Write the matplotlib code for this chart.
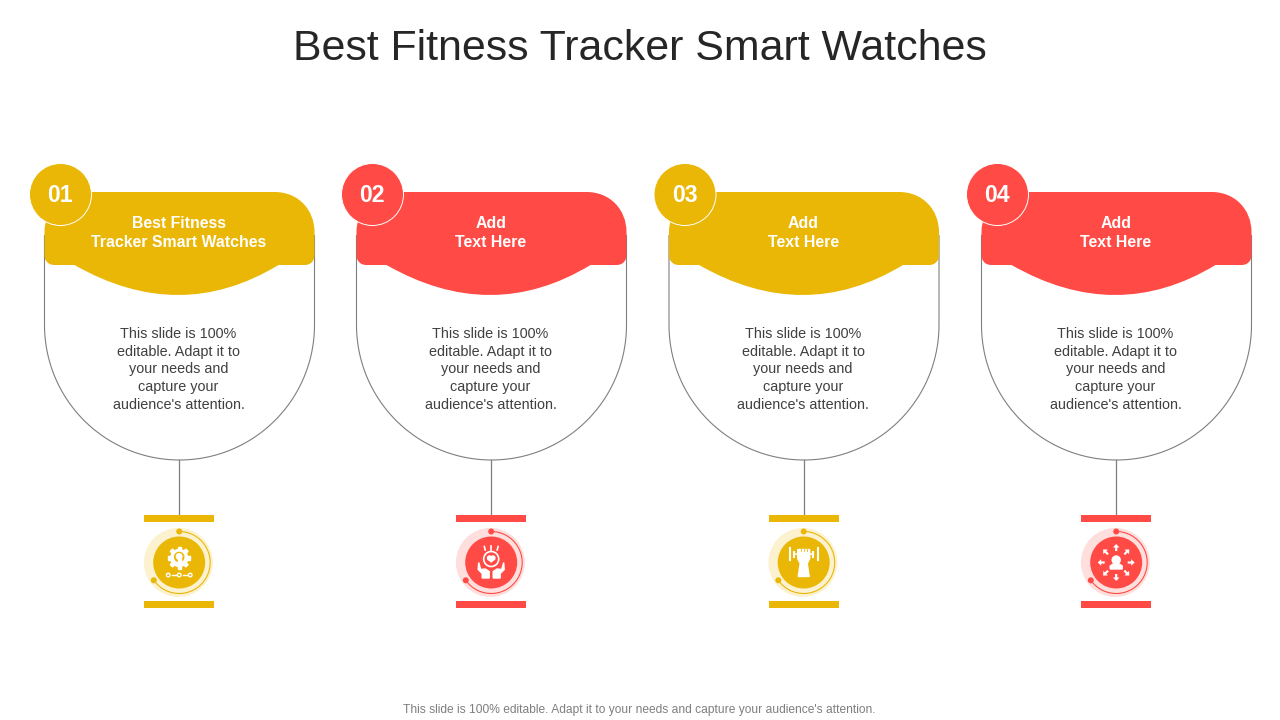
#!/usr/bin/env python3
import numpy as np
import matplotlib
matplotlib.use('Agg')
import matplotlib.pyplot as plt
from matplotlib.patches import Circle, Rectangle, PathPatch, Arc, Polygon, FancyArrow
from matplotlib.path import Path
from matplotlib.transforms import Affine2D

plt.rcParams['font.family'] = ['Liberation Sans', 'DejaVu Sans']

title = 'Best Fitness Tracker Smart Watches'
footer = "This slide is 100% editable. Adapt it to your needs and capture your audience's attention."
numbers = ['01', '02', '03', '04']
headings = [['Best Fitness', 'Tracker Smart Watches'], ['Add', 'Text Here'], ['Add', 'Text Here'], ['Add', 'Text Here']]
body_lines = ['This slide is 100%', 'editable. Adapt it to', 'your needs and', 'capture your', "audience's attention."]
card_left = [44.5, 356.5, 669, 981.5]

YELLOW = '#EAB706'
RED = '#FF4A45'
card_colors = [YELLOW, RED, YELLOW, RED]
pale_colors = ['#FDF2CF', '#FFDFDD', '#FDF2CF', '#FFDFDD']
LINE = '#7F7F7F'
TEXT = '#404040'

fig = plt.figure(figsize=(12.8, 7.2), dpi=100)
ax = fig.add_axes([0, 0, 1, 1])
ax.set_xlim(0, 1280)
ax.set_ylim(720, 0)
ax.axis('off')


def header_path(x):
    r = x + 270
    c = x + 135
    M, L, C3, C4, Z = Path.MOVETO, Path.LINETO, Path.CURVE3, Path.CURVE4, Path.CLOSEPOLY
    verts = [(x + 40, 192), (r - 40, 192),
             (r - 16, 192), (r, 210), (r, 232),
             (r, 255), (r, 261), (r - 4, 265), (r - 10, 265),
             (r - 36, 265),
             (c, 325), (x + 30, 265),
             (x + 10, 265), (x + 4, 265), (x, 261), (x, 255),
             (x, 232), (x, 210), (x + 16, 192), (x + 40, 192), (x + 40, 192)]
    codes = [M, L, C4, C4, C4, L, C4, C4, C4, L, C3, C3, L, C4, C4, C4, L, C4, C4, C4, Z]
    return Path(verts, codes)


def outline_path(x):
    t = np.linspace(np.pi, 0, 80)
    xs = x + 135 + 135 * np.cos(t)
    ys = 325 + 135 * np.sin(t)
    verts = [(x, 235)] + list(zip(xs, ys)) + [(x + 270, 235)]
    return Path(verts)


def icon_gear(cx, cy, col):
    gy = cy - 4.5
    for a in np.arange(0, 360, 45):
        rot = Affine2D().rotate_deg_around(cx, gy, a) + ax.transData
        ax.add_patch(Rectangle((cx - 1.6, gy - 11), 3.2, 4, color='white', zorder=6, transform=rot))
    ax.add_patch(Circle((cx, gy), 8.5, color='white', zorder=6))
    ax.add_patch(Circle((cx, gy - 1), 4.6, color=col, zorder=7))
    ax.add_patch(Circle((cx, gy - 1.5), 2.8, color='white', zorder=8))
    ax.add_patch(Rectangle((cx - 1.5, gy + 1), 3, 3.5, color='white', zorder=8))
    for d in (-11, 0, 11):
        ax.add_patch(Circle((cx + d, cy + 12.5), 1.8, fill=False, ec='white', lw=1, zorder=6))
    for d in (-5.5, 5.5):
        ax.plot([cx + d - 2, cx + d + 2], [cy + 12.5, cy + 12.5], color='white', lw=1, zorder=6)


def icon_hands(cx, cy, col):
    ax.add_patch(Circle((cx, cy - 3.5), 7.5, fill=False, ec='white', lw=1.2, zorder=6))
    ax.add_patch(Circle((cx - 1.7, cy - 4.5), 2, color='white', zorder=6))
    ax.add_patch(Circle((cx + 1.7, cy - 4.5), 2, color='white', zorder=6))
    ax.add_patch(Polygon([(cx - 3.6, cy - 4), (cx + 3.6, cy - 4), (cx, cy - 0.5)], color='white', zorder=6))
    for d, h in ((-6, 3.5), (0, 4.5), (6, 3.5)):
        ax.plot([cx + d, cx + d * 1.15], [cy - 12.5, cy - 12.5 - h], color='white', lw=1.2, zorder=6)
    for s in (-1, 1):
        ax.add_patch(Polygon([(cx + s * 12.5, cy), (cx + s * 13, cy + 7), (cx + s * 9, cy + 11),
                              (cx + s * 9, cy + 15.5), (cx + s * 2, cy + 15.5), (cx + s * 2, cy + 9),
                              (cx + s * 6, cy + 6.5), (cx + s * 10.5, cy + 7)], color='white', zorder=6))


def icon_fist(cx, cy, col):
    for s in (-1, 1):
        ax.plot([cx + s * 14, cx + s * 14], [cy - 14.5, cy - 2.5], color='white', lw=1.5, zorder=6)
        ax.plot([cx + s * 9.5, cx + s * 9.5], [cy - 11, cy - 6], color='white', lw=1.5, zorder=6)
        ax.plot([cx + s * 6, cx + s * 8], [cy - 8.5, cy - 8.5], color='white', lw=1.2, zorder=6)
    ax.add_patch(Polygon([(cx - 6, cy - 13), (cx + 6, cy - 13), (cx + 6, cy - 4), (cx + 3.5, cy + 1),
                          (cx + 5.5, cy + 14), (cx - 5.5, cy + 14), (cx - 3.5, cy + 1), (cx - 6, cy - 4)],
                         color='white', zorder=6))
    for d in (-3, 0, 3):
        ax.plot([cx + d, cx + d], [cy - 13.5, cy - 11.5], color=col, lw=0.6, zorder=7)


def icon_people(cx, cy, col):
    ax.add_patch(Circle((cx, cy - 2.5), 4, color='white', zorder=6))
    ax.add_patch(Polygon([(cx - 6, cy + 6.5), (cx - 6, cy + 3.5), (cx - 3, cy + 1.5), (cx + 3, cy + 1.5),
                          (cx + 6, cy + 3.5), (cx + 6, cy + 6.5)], color='white', zorder=6))
    for a in np.arange(0, 360, 45):
        dx, dy = np.cos(np.radians(a)), np.sin(np.radians(a))
        ax.add_patch(FancyArrow(cx + 11.5 * dx, cy + 11.5 * dy, 7 * dx, 7 * dy, width=2.2, head_width=6.5,
                                head_length=3.5, length_includes_head=True, color='white', lw=0, zorder=6))


icons = [icon_gear, icon_hands, icon_fist, icon_people]

ax.text(640, 49, title, ha='center', va='center', fontsize=30.9, color='#262626')
ax.text(639, 709.5, footer, ha='center', va='center', fontsize=8.65, color='#7F7F7F')

for i, x in enumerate(card_left):
    col = card_colors[i]
    cx = x + 135

    ax.add_patch(PathPatch(outline_path(x), fill=False, ec=LINE, lw=0.8, zorder=1))
    ax.plot([cx - 0.3, cx - 0.3], [460, 515], color=LINE, lw=0.9, zorder=1)
    ax.add_patch(PathPatch(header_path(x), fc=col, ec='none', zorder=2))

    ax.add_patch(Circle((x + 16, 194.5), 31, fc=col, ec='white', lw=0.7, zorder=3))
    ax.text(x + 15.5, 195.5, numbers[i], ha='center', va='center', fontsize=16.6,
            fontweight='bold', color='white', zorder=4)

    for line, y in zip(headings[i], (223.5, 242.5)):
        ax.text(cx - 0.5, y, line, ha='center', va='center', fontsize=11.4, fontweight='bold',
                color='white', zorder=4)
    for line, y in zip(body_lines, (334, 352, 369, 387, 405)):
        ax.text(cx - 1, y, line, ha='center', va='center', fontsize=10.4, color=TEXT, zorder=4)

    # icon block
    bx = cx - 35.5
    ax.add_patch(Rectangle((bx, 515), 70, 7, fc=col, ec='none', zorder=2))
    ax.add_patch(Rectangle((bx, 601), 70, 7, fc=col, ec='none', zorder=2))
    ix, iy = cx - 0.3, 562.5
    ax.add_patch(Circle((ix - 0.8, iy), 34.5, fc=pale_colors[i], ec='none', zorder=2))
    ax.add_patch(Circle((ix, iy), 26, fc=col, ec='none', zorder=4))
    ax.add_patch(Arc((ix, iy), 62, 62, theta1=-90, theta2=145, color=col, lw=0.8, zorder=3))
    ax.add_patch(Circle((ix, iy - 31), 3, fc=col, ec='none', zorder=5))
    ax.add_patch(Circle((ix - 25.4, iy + 17.8), 3, fc=col, ec='none', zorder=5))
    icons[i](ix, iy, col)

fig.savefig('out.png', dpi=100)
